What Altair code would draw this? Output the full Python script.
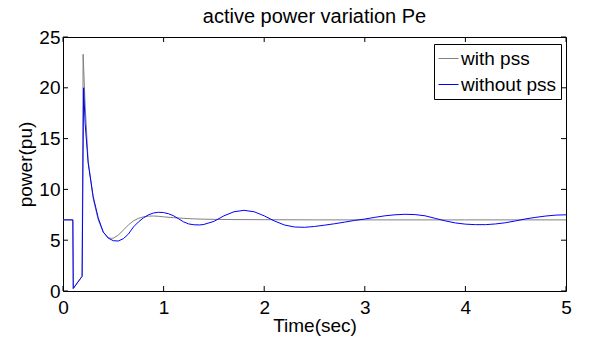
import altair as alt
import pandas as pd

# ---- data ----
series_names = ["with pss", "without pss"]
series_colors = ["#808080", "#0000ff"]

t_with = [0, 0.098, 0.102, 0.19, 0.2, 0.22, 0.25, 0.3, 0.35, 0.4,
          0.45, 0.48, 0.5, 0.55, 0.6, 0.65, 0.7, 0.75, 0.8, 0.85,
          0.9, 0.95, 1.0, 1.1, 1.2, 1.3, 1.4, 1.5, 1.7, 2.0,
          2.5, 3.0, 4.0, 5.0]
p_with = [7.0, 7.0, 0.25, 1.45, 23.3, 18.3, 12.8, 9.1, 7.0, 5.8,
          5.25, 5.18, 5.2, 5.5, 6.0, 6.5, 6.9, 7.15, 7.3, 7.37,
          7.38, 7.35, 7.3, 7.22, 7.15, 7.1, 7.07, 7.05, 7.03, 7.02,
          7.0, 7.0, 7.0, 7.0]

t_without = [0, 0.098, 0.102, 0.19, 0.205, 0.22, 0.25, 0.3, 0.35, 0.4,
             0.45, 0.5, 0.55, 0.6, 0.65, 0.7, 0.75, 0.8, 0.85, 0.9,
             0.95, 1.0, 1.05, 1.1, 1.15, 1.2, 1.25, 1.3, 1.36, 1.4,
             1.5, 1.6, 1.7, 1.8, 1.9, 2.0,
             2.1, 2.2, 2.3, 2.4, 2.5, 2.6, 2.7, 2.8, 2.9, 3.0,
             3.1, 3.2, 3.3, 3.4, 3.5, 3.6, 3.7, 3.8, 3.9, 4.0,
             4.1, 4.2, 4.3, 4.4, 4.5, 4.6, 4.7, 4.8, 4.9, 5.0]
p_without = [7.0, 7.0, 0.25, 1.45, 20.0, 16.5, 12.6, 9.3, 7.2, 5.8,
             5.2, 4.95, 4.92, 5.15, 5.6, 6.3, 6.8, 7.2, 7.5, 7.68,
             7.75, 7.72, 7.6, 7.4, 7.1, 6.8, 6.6, 6.52, 6.5, 6.55,
             6.85, 7.4, 7.8, 7.94, 7.8, 7.4,
             6.9, 6.5, 6.3, 6.27, 6.35, 6.48, 6.62, 6.78, 6.95, 7.08,
             7.25, 7.4, 7.5, 7.55, 7.52, 7.4, 7.15, 6.9, 6.7, 6.58,
             6.53, 6.53, 6.6, 6.72, 6.9, 7.1, 7.25, 7.38, 7.47, 7.5]

x_ticks = [0, 1, 2, 3, 4, 5]
y_ticks = [0, 5, 10, 15, 20, 25]

# ---- build tables ----
df = pd.concat([
    pd.DataFrame({"t": t_with, "p": p_with, "series": series_names[0]}),
    pd.DataFrame({"t": t_without, "p": p_without, "series": series_names[1]}),
], ignore_index=True)
df["order"] = range(len(df))
xt = pd.DataFrame({"t": x_ticks})
yt = pd.DataFrame({"p": y_ticks})

W, H = 503, 254
FONT = "Liberation Sans"
FS = 19
TL = 5

xscale = alt.Scale(domain=[0, 5], nice=False, zero=False)
yscale = alt.Scale(domain=[0, 25], nice=False, zero=False)

x_axis = alt.Axis(values=x_ticks, title="Time(sec)", format="d",
                  labelPadding=7, titleY=25, titleBaseline="top")
y_axis = alt.Axis(values=y_ticks, title="power(pu)", format="d",
                  labelPadding=3, titleX=-32, titleY=H / 2,
                  titleAngle=270, titleBaseline="alphabetic",
                  titleAlign="center")

lines = alt.Chart(df).mark_line(strokeWidth=1).encode(
    x=alt.X("t:Q", scale=xscale, axis=x_axis),
    y=alt.Y("p:Q", scale=yscale, axis=y_axis),
    color=alt.Color("series:N",
                    scale=alt.Scale(domain=series_names, range=series_colors),
                    legend=alt.Legend(title=None, orient="none",
                                      legendX=371, legendY=7,
                                      strokeColor="black", fillColor="white",
                                      padding=4, cornerRadius=0,
                                      symbolType="stroke", symbolSize=400,
                                      symbolStrokeWidth=1,
                                      labelFontSize=FS, labelFont=FONT,
                                      labelColor="black", labelOffset=2,
                                      labelLimit=300, rowPadding=5)),
    order="order:Q",
)

tick_style = dict(color="black", strokeWidth=1)
x_bottom = alt.Chart(xt).mark_rule(**tick_style).encode(
    x=alt.X("t:Q", scale=xscale, axis=x_axis),
    y=alt.value(H), y2=alt.value(H - TL))
x_top = alt.Chart(xt).mark_rule(**tick_style).encode(
    x=alt.X("t:Q", scale=xscale, axis=x_axis),
    y=alt.value(0), y2=alt.value(TL))
y_left = alt.Chart(yt).mark_rule(**tick_style).encode(
    y=alt.Y("p:Q", scale=yscale, axis=y_axis),
    x=alt.value(0), x2=alt.value(TL))
y_right = alt.Chart(yt).mark_rule(**tick_style).encode(
    y=alt.Y("p:Q", scale=yscale, axis=y_axis),
    x=alt.value(W), x2=alt.value(W - TL))

chart = alt.layer(lines, x_bottom, x_top, y_left, y_right).properties(
    width=W, height=H,
    background="white",
    title=alt.Title("active power variation Pe", fontSize=20, font=FONT,
                    fontWeight="normal", color="black", anchor="middle",
                    frame="group", offset=1),
    autosize=alt.AutoSizeParams(type="none"),
    padding={"left": 55, "top": 29, "right": 15, "bottom": 45},
).configure_view(
    stroke="black", strokeWidth=1
).configure_axis(
    domain=False, ticks=False, tickSize=0, grid=False,
    labelFont=FONT, labelFontSize=FS, labelColor="black",
    titleFont=FONT, titleFontSize=FS, titleColor="black",
    titleFontWeight="normal",
    labelFlush=False, labelOverlap=False, labelBound=False,
)

chart.save("out.html", embed_options={"renderer": "svg", "actions": False})
